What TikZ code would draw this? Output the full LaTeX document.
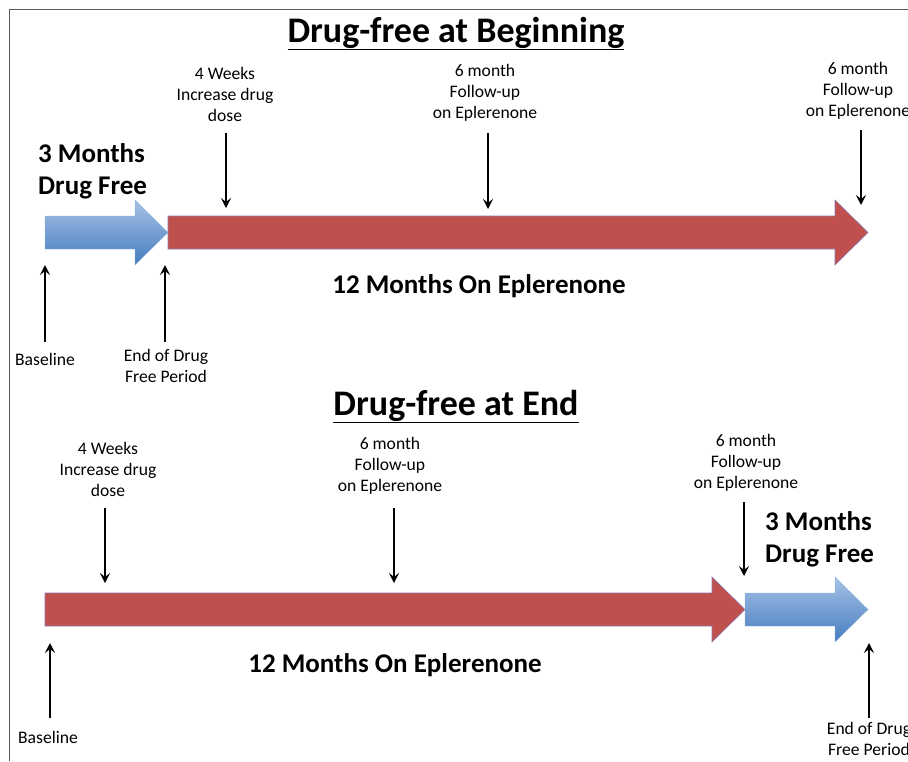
\documentclass[tikz,border=0pt]{standalone}
\usepackage{fontspec}
\setmainfont{Carlito}
\usetikzlibrary{arrows.meta}
\definecolor{barred}{RGB}{192,80,77}
\definecolor{bluetop}{RGB}{165,194,230}
\definecolor{bluebot}{RGB}{70,124,190}
\definecolor{rededge}{RGB}{140,120,175}
\tikzset{
  note/.style={align=center, font=\fontsize{17.6}{20.7}\selectfont, inner sep=0pt},
  big/.style={align=left, font=\fontsize{27}{31.5}\selectfont\bfseries, inner sep=0pt},
  title/.style={font=\fontsize{36}{40}\selectfont\bfseries, inner sep=0pt},
  tick/.style={-{Stealth[length=10pt,width=10pt,inset=4pt]}, line width=2.2pt},
  redbar/.style={fill=barred, draw=rededge, line width=0.6pt},
  bluebar/.style={top color=bluetop, bottom color=bluebot, draw=bluetop!80!bluebot, line width=0.4pt},
}
\begin{document}
\begin{tikzpicture}[x=1pt, y=-1pt]
\useasboundingbox (0,0) rectangle (908,761);
\draw[gray!70!black, line width=0.8pt] (908,9) -- (9,9) -- (9,761);
% drug-free at beginning
\node[title, anchor=base] (t1) at (456,42) {\underline{Drug-free at Beginning}};
\draw[bluebar] (45,216) -- (135,216) -- (135,200) -- (168,232.5) -- (135,265) -- (135,249) -- (45,249) -- cycle;
\draw[redbar] (168,216) -- (835,216) -- (835,200) -- (868,232.5) -- (835,265) -- (835,249) -- (168,249) -- cycle;
\node[big, anchor=base west] (free1) at (38,194) {3 Months\\Drug Free};
\node[big, anchor=base] (on1) at (479,293) {12 Months On Eplerenone};
\node[note, anchor=base] (wk1) at (225,121) {4 Weeks\\Increase drug\\dose};
\node[note, anchor=base] (fu1) at (485,118) {6 month\\Follow-up\\on Eplerenone};
\node[note, anchor=base] (fu2) at (858,116) {6 month\\Follow-up\\on Eplerenone};
\node[note, anchor=base] (bl1) at (45,365) {Baseline};
\node[note, anchor=base] (end1) at (166,382) {End of Drug\\Free Period};
\coordinate (wk1a) at (226,133); \coordinate (wk1b) at (226,208);
\coordinate (fu1a) at (488,133); \coordinate (fu1b) at (488,209);
\coordinate (fu2a) at (861,130); \coordinate (fu2b) at (861,205);
\coordinate (bl1a) at (45,342);  \coordinate (bl1b) at (45,265);
\coordinate (end1a) at (165,342); \coordinate (end1b) at (165,265);
\foreach \p in {wk1,fu1,fu2,bl1,end1}
  \draw[tick] (\p a) -- (\p b);
% drug-free at end
\node[title, anchor=base] (t2) at (456,415) {\underline{Drug-free at End}};
\draw[redbar] (45,593) -- (712,593) -- (712,577) -- (745,609.5) -- (712,642) -- (712,626) -- (45,626) -- cycle;
\draw[bluebar] (745,593) -- (835,593) -- (835,577) -- (868,609.5) -- (835,642) -- (835,626) -- (745,626) -- cycle;
\node[big, anchor=base west] (free2) at (765,562) {3 Months\\Drug Free};
\node[big, anchor=base] (on2) at (395,672) {12 Months On Eplerenone};
\node[note, anchor=base] (wk2) at (108,496) {4 Weeks\\Increase drug\\dose};
\node[note, anchor=base] (fu3) at (390,491) {6 month\\Follow-up\\on Eplerenone};
\node[note, anchor=base] (fu4) at (746,488) {6 month\\Follow-up\\on Eplerenone};
\node[note, anchor=base] (bl2) at (48,743) {Baseline};
\node[note, anchor=base] (end2) at (869,755) {End of Drug\\Free Period};
\coordinate (wk2a) at (105,508); \coordinate (wk2b) at (105,583);
\coordinate (fu3a) at (394,508); \coordinate (fu3b) at (394,583);
\coordinate (fu4a) at (744,502); \coordinate (fu4b) at (744,576);
\coordinate (bl2a) at (50,718);  \coordinate (bl2b) at (50,643);
\coordinate (end2a) at (869,718); \coordinate (end2b) at (869,643);
\foreach \p in {wk2,fu3,fu4,bl2,end2}
  \draw[tick] (\p a) -- (\p b);
\end{tikzpicture}
\end{document}
